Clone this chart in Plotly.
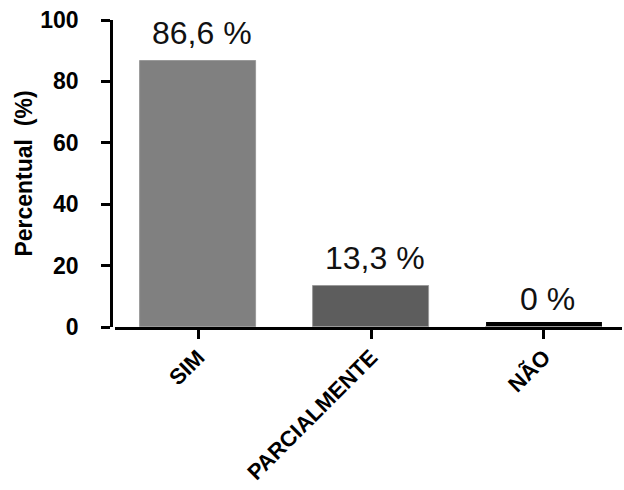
import plotly.graph_objects as go

# Survey responses (percent of respondents)
categories = ["SIM", "PARCIALMENTE", "NÃO"]
percentages = [86.6, 13.3, 0]
bar_colors = ["#808080", "#5d5d5d", "#000000"]
y_ticks = [0, 20, 40, 60, 80, 100]

BAR_WIDTH = 0.67
FONT = "Liberation Sans, Arial, sans-serif"


def pct_label(v):
    return f"{v:g}".replace(".", ",") + " %"


fig = go.Figure()
fig.add_trace(
    go.Bar(
        x=categories,
        y=percentages,
        width=BAR_WIDTH,
        marker=dict(color=bar_colors, line=dict(width=1, color="#9a9a9a")),
        hoverinfo="skip",
    )
)

# zero-valued categories still get a thin black bar sitting on the baseline
for i, (cat, v) in enumerate(zip(categories, percentages)):
    if v == 0:
        fig.add_shape(
            type="rect",
            xref="x",
            yref="y",
            x0=i - BAR_WIDTH / 2,
            x1=i + BAR_WIDTH / 2,
            ysizemode="pixel",
            yanchor=v,
            y0=0,
            y1=5,
            fillcolor=bar_colors[i],
            line=dict(width=0),
            layer="below",
        )

# value labels above each bar
for cat, v in zip(categories, percentages):
    fig.add_annotation(
        x=cat,
        y=v,
        xref="x",
        yref="y",
        text=pct_label(v),
        showarrow=False,
        yanchor="bottom",
        xanchor="center",
        xshift=4,
        yshift=8,
        font=dict(family=FONT, size=32, color="#111111"),
    )

# y-axis title
fig.add_annotation(
    x=-0.172,
    y=0.5,
    xref="paper",
    yref="paper",
    text="Percentual  (%)",
    textangle=-90,
    showarrow=False,
    xanchor="center",
    yanchor="middle",
    font=dict(family=FONT, size=23, color="#000000", weight="bold"),
)

fig.update_layout(
    width=624,
    height=490,
    margin=dict(l=111, r=2, t=20, b=163, autoexpand=False),
    paper_bgcolor="white",
    plot_bgcolor="white",
    showlegend=False,
    bargap=0,
    xaxis=dict(
        domain=[0.008, 1],
        range=[-0.48, 2.451],
        type="category",
        automargin=False,
        showline=True,
        linecolor="black",
        linewidth=2.5,
        ticks="outside",
        ticklen=9,
        tickwidth=2.5,
        tickcolor="black",
        tickangle=-45,
        ticklabelstandoff=-3,
        tickfont=dict(family=FONT, size=22, color="#000000", weight="bold"),
        showgrid=False,
        zeroline=False,
        fixedrange=True,
    ),
    yaxis=dict(
        anchor="free",
        position=0,
        range=[0, 100],
        tickvals=y_ticks,
        automargin=False,
        showline=True,
        linecolor="black",
        linewidth=2.5,
        ticks="outside",
        ticklen=9,
        tickwidth=2.5,
        tickcolor="black",
        ticklabelstandoff=18,
        tickfont=dict(family=FONT, size=23, color="#000000", weight="bold"),
        showgrid=False,
        zeroline=False,
        fixedrange=True,
    ),
)

fig.write_html("out.html", config={"displayModeBar": False})
